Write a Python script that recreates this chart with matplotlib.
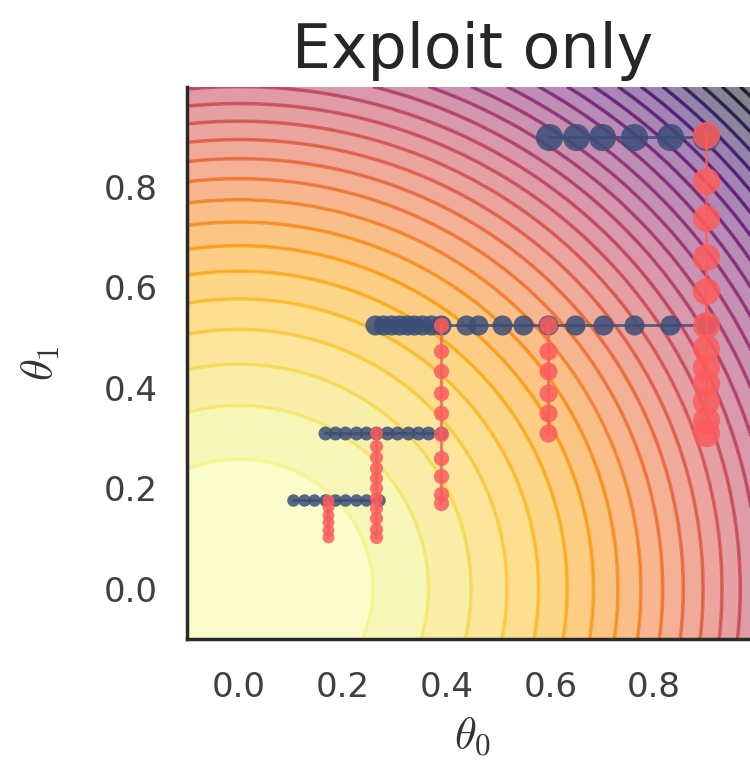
import numpy as np
import matplotlib
matplotlib.use("Agg")
import matplotlib.pyplot as plt

plt.rcParams["mathtext.fontset"] = "cm"

# ---- data ----
title = "Exploit only"
xlabel = r"$\theta_0$"
ylabel = r"$\theta_1$"
xticks = [0.0, 0.2, 0.4, 0.6, 0.8]
yticks = [0.0, 0.2, 0.4, 0.6, 0.8]
xlim = (-0.1, 1.0)
ylim = (-0.1, 1.0)

# horizontal (blue) search runs: (fixed theta1, list of theta0)
blue_y = [0.177, 0.31, 0.525, 0.9]
blue_x = [
    [0.105, 0.125, 0.145, 0.165, 0.185, 0.205, 0.225, 0.245, 0.27],
    [0.165, 0.185, 0.205, 0.225, 0.245, 0.265, 0.285, 0.305, 0.325, 0.345, 0.365, 0.39],
    [0.263, 0.278, 0.293, 0.308, 0.323, 0.338, 0.353, 0.37, 0.39, 0.438, 0.46, 0.506,
     0.548, 0.596, 0.648, 0.702, 0.761, 0.831, 0.9],
    [0.598, 0.65, 0.70, 0.761, 0.831, 0.9],
]
# vertical (red) search runs: (fixed theta0, list of theta1)
red_x = [0.171, 0.265, 0.39, 0.596, 0.9]
red_y = [
    [0.177, 0.162, 0.147, 0.132, 0.117, 0.104],
    [0.31, 0.285, 0.262, 0.24, 0.22, 0.2, 0.18, 0.16, 0.14, 0.12, 0.104],
    [0.525, 0.474, 0.434, 0.39, 0.351, 0.308, 0.261, 0.225, 0.188, 0.17],
    [0.525, 0.474, 0.434, 0.39, 0.351, 0.311],
    [0.904, 0.811, 0.739, 0.661, 0.592, 0.525, 0.48, 0.442, 0.41, 0.373, 0.337, 0.311],
]

# ---- styles ----
blue_ms = [9, 10, 14.5, 19.5]
red_ms = [8.5, 9.5, 11, 13, 19.5]
BLUE = "#3b4d78"
RED = "#fb5c5c"

fig = plt.figure(figsize=(7.5, 7.79), dpi=100)
ax = fig.add_axes([0.2495, 0.1797, 0.7609, 0.7092])

g = np.linspace(xlim[0], xlim[1], 120)
X, Y = np.meshgrid(g, np.linspace(ylim[0], ylim[1], 120))
Z = X ** 2 + Y ** 2
levels = np.linspace(0, 2.0, 31)
ax.contourf(X, Y, Z, levels=levels, cmap="inferno_r", alpha=0.5)
ax.contour(X, Y, Z, levels=levels, cmap="inferno_r", alpha=0.7, linewidths=2.6)

for yv, xs, ms in zip(blue_y, blue_x, blue_ms):
    ax.plot(xs, [yv] * len(xs), "-o", color=BLUE, ms=ms, lw=2, alpha=0.85,
            markeredgewidth=0, zorder=3)
for xv, ys, ms in zip(red_x, red_y, red_ms):
    ax.plot([xv] * len(ys), ys, "-o", color=RED, ms=ms, lw=2, alpha=0.85,
            markeredgewidth=0, zorder=4)

ax.set_xlim(*xlim)
ax.set_ylim(*ylim)
ax.set_xticks(xticks)
ax.set_yticks(yticks)
ax.set_xticklabels([f"{v:.1f}" for v in xticks])
ax.set_yticklabels([f"{v:.1f}" for v in yticks])
ax.tick_params(axis="both", length=0, labelsize=24.5, colors="#404040")
ax.tick_params(axis="x", pad=23)
ax.tick_params(axis="y", pad=21)

for s in ["top", "right"]:
    ax.spines[s].set_visible(False)
for s in ["left", "bottom"]:
    ax.spines[s].set_color("#2a2a2a")
    ax.spines[s].set_linewidth(2.5)

ax.set_title(title, fontsize=44.5, color="#262626", pad=13)
ax.set_xlabel(xlabel, fontsize=32, color="#333333", labelpad=8)
ax.set_ylabel(ylabel, fontsize=32, color="#333333", labelpad=30)

fig.savefig("out.png", dpi=100)
